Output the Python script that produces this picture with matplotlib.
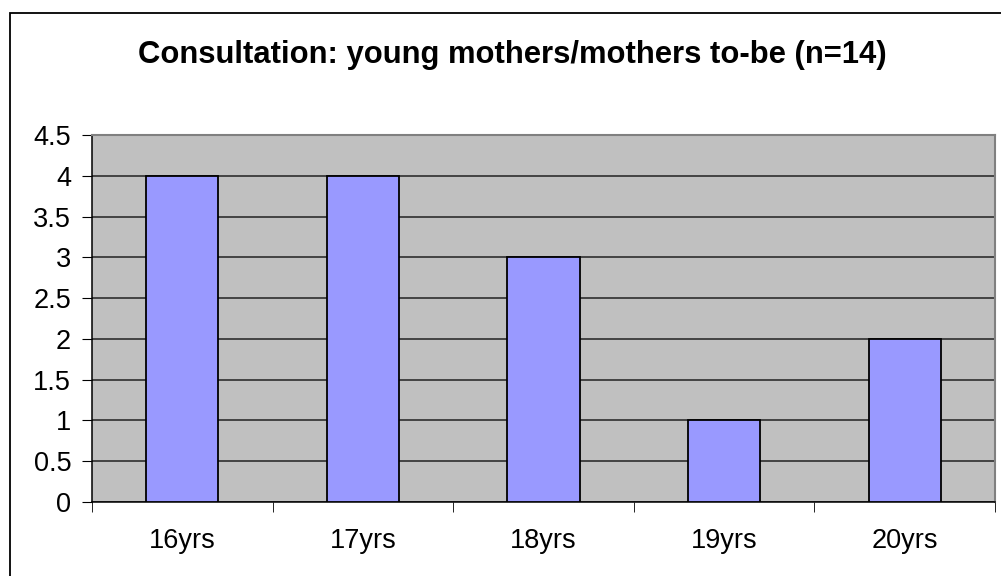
import numpy as np
import matplotlib.pyplot as plt
from matplotlib.patches import Rectangle

categories = ["16yrs", "17yrs", "18yrs", "19yrs", "20yrs"]
counts = [4, 4, 3, 1, 2]
yticks = [0, 0.5, 1, 1.5, 2, 2.5, 3, 3.5, 4, 4.5]
title = "Consultation: young mothers/mothers to-be (n=14)"

plt.rcParams['font.family'] = ['Liberation Sans', 'DejaVu Sans']

W, H = 1001, 576
fig = plt.figure(figsize=(W / 100, H / 100), dpi=100)

# outer chart frame (right/bottom edges fall outside the image)
fig.patches.append(Rectangle((10 / W, -0.1), 2, 1 - 13 / H + 0.1, transform=fig.transFigure,
                             fill=False, edgecolor='black', lw=1.3))

left, right, top, bottom = 92, 995, 135, 502
ax = fig.add_axes([left / W, 1 - bottom / H, (right - left) / W, (bottom - top) / H])
ax.set_facecolor('#C0C0C0')

x = np.arange(len(categories))
ax.bar(x, counts, width=0.4, color='#9999FF', edgecolor='black', lw=1.3, zorder=3)

ax.set_xlim(-0.5, len(categories) - 0.5)
ax.set_ylim(0, 4.5)
ax.set_yticks(yticks)
ax.set_yticklabels(['%g' % v for v in yticks], fontsize=19.5)
ax.yaxis.grid(True, color='#222222', lw=1.1, zorder=1)
ax.set_axisbelow(True)

ax.set_xticks(x)
ax.set_xticklabels(categories, fontsize=19.5)
ax.tick_params(axis='x', length=0, pad=19)
ax.set_xticks(np.arange(-0.5, len(categories)), minor=True)
ax.tick_params(axis='x', which='minor', length=7, direction='out', color='black')
ax.tick_params(axis='y', length=7, direction='out', color='black', pad=8)

for s in ['top', 'right']:
    ax.spines[s].set_color('#808080')
    ax.spines[s].set_linewidth(1.5)
for s in ['left', 'bottom']:
    ax.spines[s].set_color('black')
    ax.spines[s].set_linewidth(1.1)

fig.text(512 / W, 1 - 55 / H, title, ha='center', va='center',
         fontsize=22.3, fontweight='bold')

fig.savefig('out.png', dpi=100)
